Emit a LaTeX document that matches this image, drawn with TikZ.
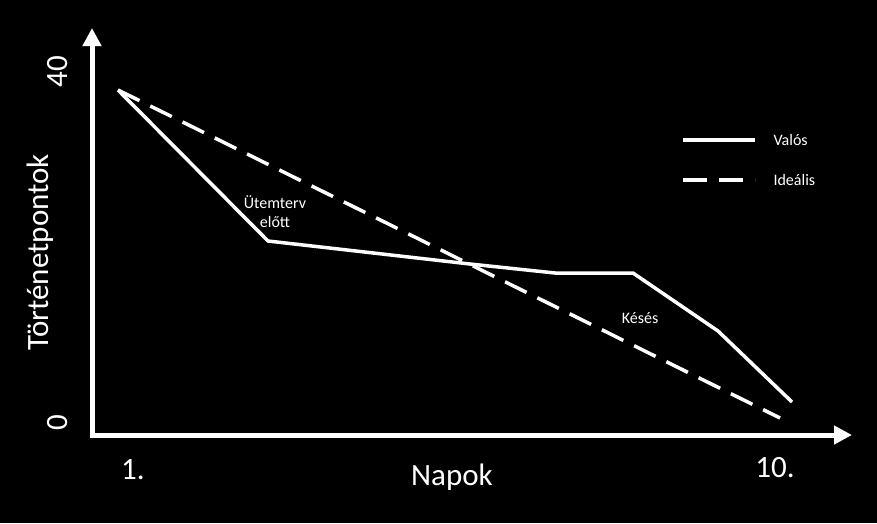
\documentclass[tikz,border=0pt]{standalone}
\usepackage{fontspec}
\setmainfont{Carlito}
\begin{document}
\begin{tikzpicture}[x=1pt,y=-1pt,
  ax/.style={white,line width=5pt,-{Triangle[length=18pt,width=18pt]}},
  ln/.style={white,line width=3.5pt},
  big/.style={white,font=\fontsize{31}{34}\selectfont},
  sm/.style={white,font=\fontsize{16}{19}\selectfont,align=center}]
\usetikzlibrary{arrows.meta}
\fill[black] (0,0) rectangle (877,523);
\coordinate (o) at (92,435);
\coordinate (ytop) at (92,28);
\coordinate (xend) at (852,435);
\draw[ax] (92,437) -- (ytop);
\draw[ax] (90,435) -- (xend);
\coordinate (s) at (118,90);
\coordinate (e) at (780,418);
\draw[ln] (s) -- (268,241) -- (470,264) -- (555,273) -- (633,273) -- (718,331) -- (792,402);
\draw[ln,dash pattern=on 24pt off 12pt] (s) -- (e);
\node[big,rotate=90] (l40) at (58,72) {40};
\node[big,rotate=90] (l0) at (58,423) {0};
\node[big,rotate=90] (yl) at (40,252) {Történetpontok};
\node[big] (x1) at (133,470) {1.};
\node[big] (xl) at (452,477) {Napok};
\node[big] (x10) at (775,468) {10.};
\node[sm] (ut) at (275,212) {Ütemterv\\előtt};
\node[sm] (ks) at (640,318) {Késés};
\coordinate (a1) at (683,140); \coordinate (a2) at (755,140);
\coordinate (b1) at (683,180); \coordinate (b2) at (755,180);
\draw[ln] (a1) -- (a2);
\draw[ln,dash pattern=on 24pt off 12pt] (b1) -- (b2);
\node[sm,anchor=west] (v) at (770,140) {Valós};
\node[sm,anchor=west] (i) at (770,180) {Ideális};
\end{tikzpicture}
\end{document}
